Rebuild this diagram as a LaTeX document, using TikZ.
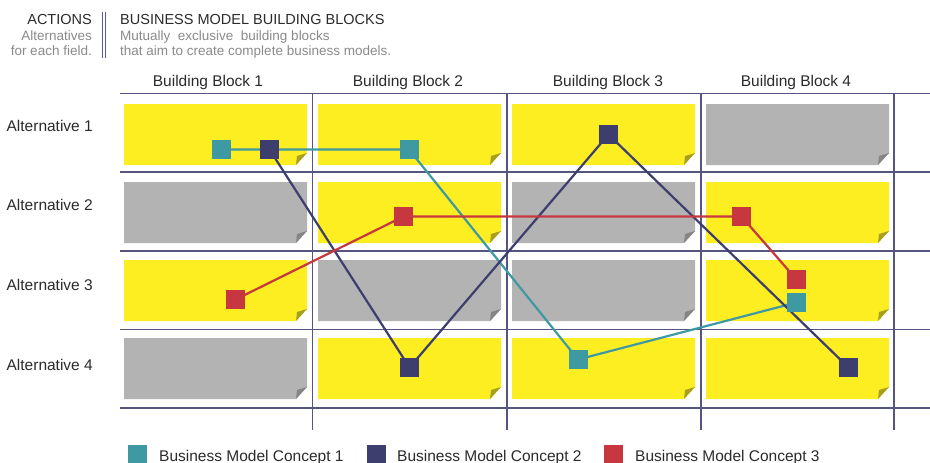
\documentclass[tikz,border=0pt]{standalone}
\usepackage{fontspec}
\setmainfont{Liberation Sans}
\usepackage{xcolor}
\usepackage{tikz}
\usetikzlibrary{backgrounds,positioning}

\definecolor{notey}{HTML}{FCEE21}
\definecolor{noteg}{HTML}{B3B3B3}
\definecolor{foldy}{HTML}{A89F1E}
\definecolor{foldg}{HTML}{858585}
\definecolor{gridc}{HTML}{55557F}
\definecolor{cteal}{HTML}{3F99A3}
\definecolor{cnavy}{HTML}{3E3E6E}
\definecolor{cred}{HTML}{C7373F}
\definecolor{txtdark}{HTML}{2A2A2A}
\definecolor{txtgray}{HTML}{8A8A8A}

\newcommand{\fsz}[1]{\fontsize{#1}{#1}\selectfont}

\begin{document}
\begin{tikzpicture}[x=1pt,y=-1pt,
  marker/.style={rectangle,fill=#1,draw=none,inner sep=0pt,minimum size=19pt},
  link/.style={draw=#1,line width=2.2pt},
  gridline/.style={draw=gridc,line width=1.3pt},
  label/.style={text=txtdark,inner sep=0pt,font=\fsz{15.5}}]
  \useasboundingbox (0,0) rectangle (930,463);

  % heading block
  \node[label,anchor=base east,font=\fsz{14.5}] (act) at (92,24) {ACTIONS};
  \node[label,anchor=base east,text=txtgray,font=\fsz{13.5}] (act2) at (92,41) {Alternatives};
  \node[label,anchor=base east,text=txtgray,font=\fsz{13.5}] (act3) at (92,56) {for each field.};
  \draw[gray!70!blue,line width=0.9pt] (102,12) -- (102,58);
  \draw[gray!70!blue,line width=0.9pt] (105.5,12) -- (105.5,58);
  \node[label,anchor=base west,font=\fsz{14.5}] (bmb) at (120,24) {BUSINESS MODEL BUILDING BLOCKS};
  \node[label,anchor=base west,text=txtgray,font=\fsz{13.5}] (bmb2) at (120,41) {Mutually\ \ exclusive\ \ building blocks};
  \node[label,anchor=base west,text=txtgray,font=\fsz{13.5}] (bmb3) at (120,56) {that aim to create complete business models.};

  % column and row captions
  \foreach \c/\x in {1/208,2/408,3/608,4/796}
    \node[label,anchor=base] (blk\c) at (\x,86) {Building Block \c};
  \foreach \r/\y in {1/131,2/210,3/290,4/370}
    \node[label,anchor=base east] (alt\r) at (93,\y) {Alternative \r};

  % sticky notes (col/row/colour)
  \begin{scope}[on background layer]
  \foreach \c/\r/\k in {1/1/y,2/1/y,3/1/y,4/1/g,
                        1/2/g,2/2/y,3/2/g,4/2/y,
                        1/3/y,2/3/g,3/3/g,4/3/y,
                        1/4/g,2/4/y,3/4/y,4/4/y}{
    \pgfmathsetmacro{\l}{124+194*(\c-1)}
    \pgfmathsetmacro{\t}{104+78*(\r-1)}
    \fill[note\k] (\l,\t) -- ++(183,0) -- ++(0,49) -- ++(-11,12) -- ++(-172,0) -- cycle;
    \fill[fold\k] (\l+183,\t+49) -- (\l+173,\t+52) -- (\l+172,\t+61) -- cycle;
  }
  % grid
  \foreach \y in {93.5,172,251,329.5,408}
    \draw[gridline] (120,\y) -- (930,\y);
  \foreach \x in {312.5,507,701,894}
    \draw[gridline] (\x,93.5) -- (\x,430);
  \end{scope}

  % concept markers
  \node[marker=cteal] (c1a) at (221,149.5) {};
  \node[marker=cteal] (c1b) at (409,149.5) {};
  \node[marker=cteal] (c1c) at (578,359.5) {};
  \node[marker=cteal] (c1d) at (796.5,302.5) {};
  \node[marker=cnavy] (c2a) at (269.5,149.5) {};
  \node[marker=cnavy] (c2b) at (409.5,367.5) {};
  \node[marker=cnavy] (c2c) at (608.5,134.5) {};
  \node[marker=cnavy] (c2d) at (848.5,367.5) {};
  \node[marker=cred] (c3a) at (235.5,299.5) {};
  \node[marker=cred] (c3b) at (403.5,216.5) {};
  \node[marker=cred] (c3c) at (741.5,216.5) {};
  \node[marker=cred] (c3d) at (796.5,279.5) {};

  \begin{scope}[on background layer]
  \draw[link=cteal] (c1a.center) -- (c1b.center) -- (c1c.center) -- (c1d.center);
  \draw[link=cnavy] (c2a.center) -- (c2b.center) -- (c2c.center) -- (c2d.center);
  \draw[link=cred] (c3a.center) -- (c3b.center) -- (c3c.center) -- (c3d.center);
  \end{scope}

  % legend
  \node[marker=cteal] (key1) at (137.5,454.5) {};
  \node[marker=cnavy] (key2) at (376,454.5) {};
  \node[marker=cred] (key3) at (613.5,454.5) {};
  \node[label,anchor=base west] (lg1) at (159,461) {Business Model Concept 1};
  \node[label,anchor=base west] (lg2) at (397,461) {Business Model Concept 2};
  \node[label,anchor=base west] (lg3) at (635,461) {Business Model Concept 3};
\end{tikzpicture}
\end{document}
